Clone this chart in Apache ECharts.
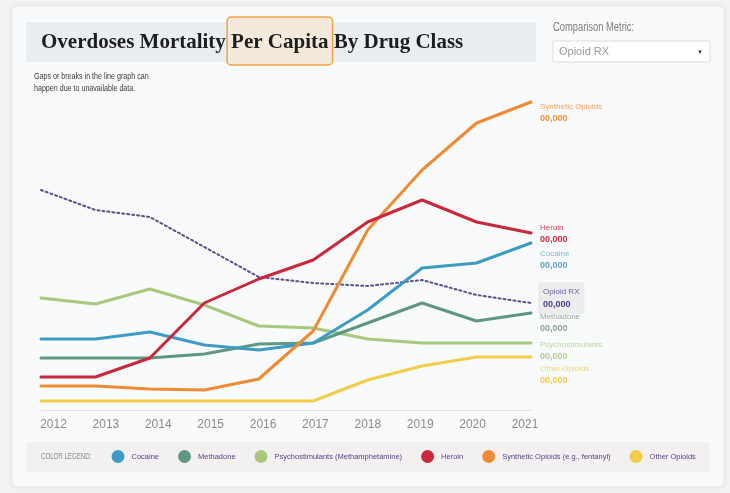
<!DOCTYPE html>
<html><head><meta charset="utf-8">
<script src="https://cdn.jsdelivr.net/npm/echarts@6/dist/echarts.min.js"></script>
<style>html,body{margin:0;padding:0;background:#f1f3f5}#chart{width:730px;height:493px}</style>
</head><body><div id="chart"></div>
<script>
// ---- data ----
const years = ['2012','2013','2014','2015','2016','2017','2018','2019','2020','2021'];
const cocaine          = [7.1, 7.1, 7.8, 6.5, 6.0, 6.7, 10.0, 14.2, 14.7, 16.7];
const methadone        = [5.2, 5.2, 5.2, 5.6, 6.6, 6.7, 8.7, 10.7, 8.9, 9.7];
const psychostimulants = [11.2, 10.6, 12.1, 10.5, 8.4, 8.2, 7.1, 6.7, 6.7, 6.7];
const heroin           = [3.3, 3.3, 5.2, 10.7, 13.1, 15.0, 18.8, 21.0, 18.8, 17.7];
const syntheticOpioids = [2.4, 2.4, 2.1, 2.0, 3.1, 7.9, 18.0, 24.0, 28.7, 30.8];
const otherOpioids     = [0.9, 0.9, 0.9, 0.9, 0.9, 0.9, 3.0, 4.4, 5.3, 5.3];
const opioidRx         = [22.0, 20.0, 19.3, 16.3, 13.3, 12.7, 12.4, 13.0, 11.5, 10.7];
const legendNames = ['Cocaine','Methadone','Psychostimulants (Methamphetamine)','Heroin','Synthetic Opioids (e.g., fentanyl)','Other Opioids'];
const endLabelNames = {
  'Cocaine':'Cocaine','Methadone':'Methadone','Psychostimulants (Methamphetamine)':'Psychostimulants',
  'Heroin':'Heroin','Synthetic Opioids (e.g., fentanyl)':'Synthetic Opioids','Other Opioids':'Other Opioids','Opioid RX':'Opioid RX'
};
const endValueText = '00,000';
const titleText = 'Overdoses Mortality Per Capita By Drug Class';
const titleLead = 'Overdoses Mortality ';
const titleHighlight = 'Per Capita';
const noteText = 'Gaps or breaks in the line graph can\nhappen due to unavailable data.';
const metricLabel = 'Comparison Metric:';
const metricValue = 'Opioid RX';
const legendTitle = 'COLOR LEGEND:';

// ---- styling ----
const SANS = '"Liberation Sans",Arial,sans-serif';
const SERIF = '"Liberation Serif","Times New Roman",serif';

function mkSeries(name, data, color, nameColor, valColor, dy, z, extra) {
  return Object.assign({
    name, type:'line', data, xAxisIndex:0, yAxisIndex:0, z,
    symbol:'none', smooth:false,
    lineStyle:{color, width:3, cap:'round', join:'round'},
    itemStyle:{color},
    emphasis:{disabled:true},
    endLabel:{
      show:true, distance:9, offset:[0, dy],
      formatter: () => '{n|' + endLabelNames[name] + '}\n{v|' + endValueText + '}',
      rich:{
        n:{fontSize:8, lineHeight:12, color:nameColor, fontFamily:SANS},
        v:{fontSize:9, lineHeight:13, fontWeight:'bold', color:valColor, fontFamily:SANS}
      }
    }
  }, extra || {});
}

const series = [
  mkSeries('Other Opioids', otherOpioids, '#f2cd4a', '#f3d46e', '#f1cc4c', 18, 2),
  mkSeries('Psychostimulants (Methamphetamine)', psychostimulants, '#a6c97c', '#bcd89a', '#b3cc9b', 8, 3),
  mkSeries('Methadone', methadone, '#5e9880', '#93ab9e', '#8ba597', 10, 4),
  mkSeries('Cocaine', cocaine, '#3e9bc4', '#7ab8d6', '#5aa6cc', 17, 5),
  mkSeries('Synthetic Opioids (e.g., fentanyl)', syntheticOpioids, '#ef8b35', '#f0a462', '#ee9440', 11, 6),
  mkSeries('Heroin', heroin, '#c9283b', '#d04458', '#c82a40', 1, 7),
  mkSeries('Opioid RX', opioidRx, '#5b4f8e', '#6e5a9a', '#4f3a86', -5, 1, {
    lineStyle:{color:'#5b4f8e', width:2, type:[2,3], cap:'round'}
  })
];
series[6].endLabel.distance = 7;
series[6].endLabel.backgroundColor = '#ececef';
series[6].endLabel.padding = [4, 5, 3, 5];
series[6].endLabel.borderRadius = 2;

// measure title pieces for highlight box
const ctx = document.createElement('canvas').getContext('2d');
ctx.font = 'bold 21px ' + SERIF;
const wLead = ctx.measureText(titleLead).width;
const wHi = ctx.measureText(titleHighlight).width;
const titleX = 41;

const chart = echarts.init(document.getElementById('chart'), null, {renderer:'canvas'});
chart.setOption({
  animation:false,
  backgroundColor:'#f1f3f5',
  grid:[
    {left:41, right:199, top:90, bottom:83},
    {left:53.5, right:205, top:90, bottom:83}
  ],
  xAxis:[
    {type:'category', gridIndex:0, data:years, boundaryGap:false,
     axisLine:{show:true, lineStyle:{color:'#e3e4e6', width:1}},
     axisTick:{show:false}, axisLabel:{show:false}, splitLine:{show:false}},
    {type:'category', gridIndex:1, data:years, boundaryGap:false,
     axisLine:{show:false}, axisTick:{show:false}, splitLine:{show:false},
     axisLabel:{color:'#8c8c8c', fontSize:12, fontFamily:SANS, margin:9}}
  ],
  yAxis:[
    {type:'value', gridIndex:0, min:0, max:32, show:false},
    {type:'value', gridIndex:1, min:0, max:32, show:false}
  ],
  legend:{
    data:legendNames,
    left:106.5, top:445, width:640, padding:5, icon:'circle', itemWidth:13, itemHeight:13, itemGap:19,
    selectedMode:false,
    textStyle:{color:'#5a3f86', fontSize:7.5, fontFamily:SANS, padding:[0,0,0,2]}
  },
  graphic:[
    {type:'rect', z:-10, shape:{x:12, y:6, width:712, height:481, r:4},
     style:{fill:'#f9fafb', stroke:'#e6e8ea', lineWidth:1, shadowBlur:6, shadowColor:'rgba(0,0,0,0.06)'}},
    {type:'rect', z:-9, shape:{x:26, y:22, width:510, height:40},
     style:{fill:'#e9eef2'}},
    {type:'rect', z:-8, shape:{x:titleX + wLead - 4, y:17, width:wHi + 8, height:48, r:4},
     style:{fill:'#f3eadb', stroke:'#f0a445', lineWidth:1.5}},
    {type:'text', z:-7, style:{x:titleX, y:43, text:titleText, font:'bold 21px ' + SERIF, fill:'#1e1e1e', verticalAlign:'middle'}},
    {type:'text', z:-7, x:34, y:70, scaleX:0.79,
     style:{x:0, y:0, text:noteText, fontSize:9, fontFamily:SANS, fill:'#3c3c3c', lineHeight:12.5}},
    {type:'text', z:-7, x:553, y:28, scaleX:0.78,
     style:{x:0, y:0, text:metricLabel, fontSize:12, fontFamily:SANS, fill:'#7c7c7c', verticalAlign:'middle'}},
    {type:'rect', z:-7, shape:{x:553, y:41, width:157, height:21, r:1},
     style:{fill:'#ffffff', stroke:'#dcdde0', lineWidth:1}},
    {type:'text', z:-6, style:{x:559, y:52, text:metricValue, fontSize:11, fontFamily:SANS, fill:'#9a9a9a', verticalAlign:'middle'}},
    {type:'text', z:-6, style:{x:700, y:52, text:'▼', fontSize:6, fill:'#333', align:'center', verticalAlign:'middle'}},
    {type:'rect', z:-7, shape:{x:26, y:442, width:684, height:30, r:3},
     style:{fill:'#f2f0f0'}},
    {type:'text', z:-6, x:41, y:457, scaleX:0.72,
     style:{x:0, y:0, text:legendTitle, fontSize:8.5, fontFamily:SANS, fill:'#8a8a98', verticalAlign:'middle'}}
  ],
  series
});
</script>
</body></html>
